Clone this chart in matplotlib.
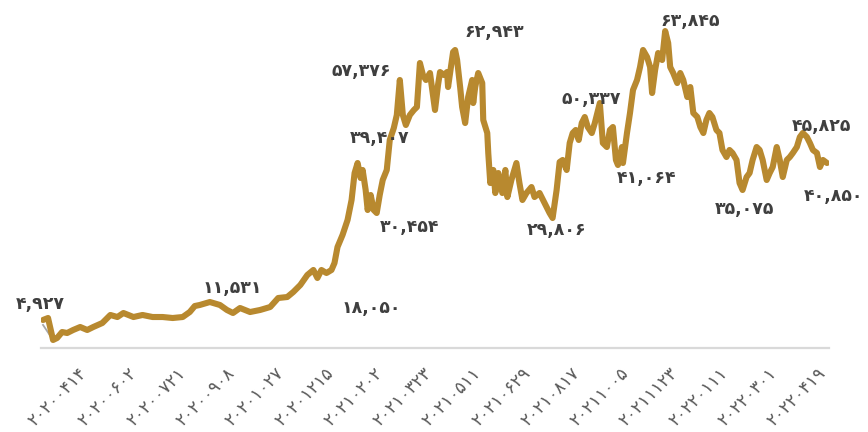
# Price line chart with Persian digit labels
import matplotlib
matplotlib.use('Agg')
import matplotlib.pyplot as plt
from matplotlib.transforms import ScaledTranslation

plt.rcParams['font.family'] = ['DejaVu Sans']

# day offsets from the start of the axis and the price read for each day
days = [2, 7, 12, 16, 21, 26, 32, 39, 46, 52, 61, 69, 76, 82, 92, 101, 111, 121, 131, 141,
        148, 153, 158, 168, 178, 185, 191, 198, 208, 218, 228, 236, 245, 251, 258, 265, 271, 275, 279, 284,
        289, 292, 295, 300, 305, 309, 312, 315, 318, 320, 323, 325, 328, 331, 334, 337, 340, 344, 347, 351,
        354, 357, 360, 363, 367, 371, 374, 377, 380, 383, 387, 390, 392, 395, 397, 401, 404, 405, 407, 410,
        412, 414, 417, 419, 422, 425, 429, 430, 432, 435, 439, 440, 444, 445, 447, 450, 452, 455, 459, 462,
        464, 468, 473, 476, 479, 483, 488, 491, 496, 501, 506, 509, 513, 516, 519, 523, 526, 529, 532, 535,
        538, 541, 544, 548, 551, 556, 559, 563, 566, 569, 572, 574, 578, 579, 583, 586, 589, 593, 596, 599,
        603, 606, 608, 611, 614, 618, 621, 624, 626, 629, 633, 636, 639, 643, 646, 649, 653, 656, 659, 662,
        665, 668, 672, 675, 678, 682, 685, 688, 692, 695, 698, 702, 705, 708, 712, 715, 718, 722, 725, 728,
        732, 735, 738, 742, 745, 748, 752, 755, 758, 762, 765, 768, 772, 775, 778, 782]
prices = [11300, 11660, 7660, 8020, 9110, 8930, 9480, 10020, 9480, 10020, 10750, 12210, 11840, 12570, 11840, 12210, 11840, 11840, 11660, 11840,
          12750, 13840, 14030, 14570, 14030, 13120, 12570, 13480, 12750, 13120, 13660, 15300, 15480, 16390, 17670, 19490, 20400, 18940, 20400, 19850,
          20400, 21670, 24580, 26770, 29500, 33140, 38050, 39870, 37140, 38600, 34960, 31320, 34050, 31320, 30770, 34050, 36780, 38600, 44060, 46240,
          48610, 54980, 48610, 46790, 48610, 49520, 50060, 58070, 55890, 54980, 56250, 52250, 49520, 54070, 56430, 55890, 56430, 53700, 56250, 60070,
          60440, 58620, 53700, 50060, 47150, 51880, 54980, 50790, 53700, 56250, 54430, 47700, 45330, 41690, 36230, 38600, 34410, 38050, 34410, 38600,
          33680, 36780, 39870, 36230, 33140, 34410, 35500, 33680, 34410, 32590, 30770, 29860, 34960, 40050, 40420, 38600, 43510, 45330, 45880, 44060,
          47150, 48240, 46420, 45330, 47150, 50790, 43510, 42780, 45880, 46420, 40420, 39510, 42780, 39870, 45330, 48970, 53160, 54980, 57340, 60440,
          59160, 57340, 52610, 56800, 59890, 58620, 63890, 61710, 57340, 56250, 54430, 56250, 54980, 51880, 53700, 48970, 48240, 46420, 45330, 47700,
          48970, 48240, 45880, 45330, 42240, 40960, 42240, 41690, 40420, 36230, 34960, 37320, 38050, 40420, 42780, 42240, 40420, 36780, 38050, 39140,
          42780, 40420, 37320, 40420, 40960, 41690, 42780, 44600, 45330, 44600, 43510, 42240, 41690, 39140, 40420, 39870]

tick_days = [47 + 49 * i for i in range(16)]
tick_labels = ['۲۰۲۰۰۴۱۴', '۲۰۲۰۰۶۰۲', '۲۰۲۰۰۷۲۱', '۲۰۲۰۰۹۰۸', '۲۰۲۰۱۰۲۷', '۲۰۲۰۱۲۱۵',
               '۲۰۲۱۰۲۰۲', '۲۰۲۱۰۳۲۳', '۲۰۲۱۰۵۱۱', '۲۰۲۱۰۶۲۹', '۲۰۲۱۰۸۱۷', '۲۰۲۱۱۰۰۵',
               '۲۰۲۱۱۱۲۳', '۲۰۲۲۰۱۱۱', '۲۰۲۲۰۳۰۱', '۲۰۲۲۰۴۱۹']

# point labels: text, the day they belong to, pixel offset of the text
label_texts = ['۴,۹۲۷', '۱۱,۵۳۱', '۱۸,۰۵۰', '۳۰,۴۵۴', '۳۹,۴۰۷', '۵۷,۳۷۶', '۶۲,۹۴۳',
               '۲۹,۸۰۶', '۵۰,۳۳۷', '۴۱,۰۶۴', '۶۳,۸۴۵', '۳۵,۰۷۵', '۴۵,۸۲۵', '۴۰,۸۵۰']
label_days = [2, 168, 289, 334, 315, 357, 412, 509, 556, 574, 621, 698, 758, 782]
label_offsets = [(-3, 16), (22, 14), (40, -38), (33, -14), (22, 25), (-39, 9), (39, 18),
                 (4, -12), (-9, 4), (29, -13), (25, 10), (2, -19), (19, 7), (7, -33)]

gold = '#B8892F'

fig = plt.figure(figsize=(8.68, 4.32), dpi=100)
ax = fig.add_axes([41 / 868, 1 - 348 / 432, (829 - 41) / 868, (348 - 20) / 432])

# thin grey connector under the first drop
ax.plot([days[0], days[2]], [prices[0] - 900, prices[2]], color='#A6A6A6', lw=1.3, zorder=2)
ax.plot(days, prices, color=gold, lw=4.4, solid_joinstyle='round', solid_capstyle='round', zorder=3)

for txt, d, off in zip(label_texts, label_days, label_offsets):
    v = prices[days.index(d)]
    ax.annotate(txt, xy=(d, v), xytext=off, textcoords='offset pixels',
                ha='center', va='center', fontsize=12.5, fontweight='bold',
                color='#3F3F3F', zorder=4)

ax.set_xlim(0, 784)
ax.set_ylim(6200, 65900)
ax.set_xticks(tick_days)
ax.set_xticklabels(tick_labels, rotation=45, ha='right', va='center',
                   rotation_mode='anchor', fontsize=12.5, color='#595959')
ax.tick_params(axis='x', length=0, pad=16)
shift = ScaledTranslation(-4 / 100, 0, fig.dpi_scale_trans)
for lab in ax.get_xticklabels():
    lab.set_transform(lab.get_transform() + shift)
ax.set_yticks([])
for side in ['top', 'right', 'left']:
    ax.spines[side].set_visible(False)
ax.spines['bottom'].set_color('#D9D9D9')
ax.spines['bottom'].set_linewidth(1.6)

fig.savefig('out.png', dpi=100)
